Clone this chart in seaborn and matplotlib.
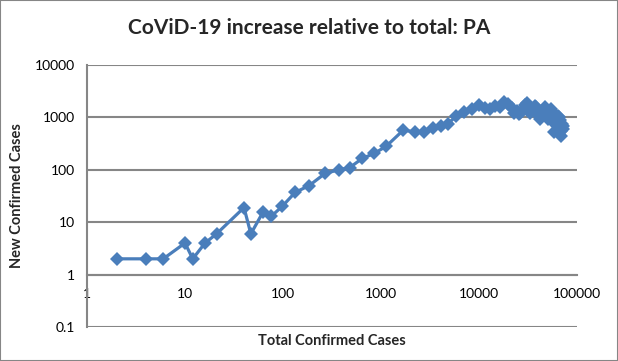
import matplotlib
matplotlib.use("Agg")
import matplotlib.pyplot as plt
from matplotlib.patches import Rectangle
from matplotlib.ticker import FixedLocator, FixedFormatter, NullLocator
import seaborn as sns

# Cumulative total vs. daily new cases
total_cases = [2, 4, 6, 10, 12, 16, 21, 40, 47, 63, 76, 98, 133, 185, 268, 371, 479, 644,
               851, 1127, 1687, 2218, 2751, 3394, 4087, 4843, 5805, 7016, 8420, 10017,
               11500, 12900, 14600, 16200, 17900, 19900, 21700, 22800, 24200, 25300, 26500,
               27700, 29400, 31000, 33200, 35300, 37000, 38600, 40000, 41100, 42000, 43200,
               44300, 45700, 46900, 48300, 49500, 50500, 52800, 53800, 54800, 56300, 57100,
               58500, 60500, 61600, 62200, 63100, 64100, 65400, 66300, 67000, 67700, 68200,
               68600, 69300, 70000, 71500, 72300]
new_cases = [2, 2, 2, 4, 2, 4, 6, 19, 6, 16, 13, 20, 37, 50, 85, 100, 110, 165,
             205, 280, 570, 530, 530, 640, 700, 760, 1050, 1270, 1470, 1700,
             1500, 1450, 1650, 1600, 1950, 1800, 1500, 1200, 1350, 1150, 1200,
             1300, 1700, 1850, 1200, 1450, 1650, 1550, 1350, 1050, 950, 1200,
             1100, 1400, 1550, 1300, 1150, 950, 1100, 1450, 1000, 1200, 800,
             530, 750, 900, 1000, 850, 1050, 1000, 900, 700, 650, 550,
             450, 600, 750, 700, 600]

y_ticks = [0.1, 1, 10, 100, 1000, 10000]
y_tick_labels = ["0.1", "1", "10", "100", "1000", "10000"]
x_ticks = [1, 10, 100, 1000, 10000, 100000]
x_tick_labels = ["1", "10", "100", "1000", "10000", "100000"]

sns.set_style("white")
plt.rcParams['font.family'] = ['Lato', 'DejaVu Sans']

grid_color = '#868686'
line_color = '#4A7EBB'

fig = plt.figure(figsize=(6.18, 3.61), dpi=100)
ax = fig.add_axes([87 / 618, 34 / 361, 490 / 618, 262 / 361])

sns.lineplot(x=total_cases, y=new_cases, ax=ax, sort=False, estimator=None,
             color=line_color, lw=2.3, marker='D', markersize=6.8, markeredgewidth=0)

ax.set_xscale('log')
ax.set_yscale('log')
ax.set_xlim(1, 100000)
ax.set_ylim(0.1, 10000)

ax.yaxis.set_major_locator(FixedLocator(y_ticks))
ax.yaxis.set_major_formatter(FixedFormatter(y_tick_labels))
ax.yaxis.set_minor_locator(NullLocator())
ax.xaxis.set_major_locator(FixedLocator(x_ticks))
ax.xaxis.set_major_formatter(FixedFormatter(x_tick_labels))
ax.xaxis.set_minor_locator(NullLocator())

ax.set_axisbelow(True)
ax.yaxis.grid(True, color=grid_color, lw=1.5)
ax.xaxis.grid(False)

for side in ['top', 'right']:
    ax.spines[side].set_visible(False)
ax.spines['left'].set_color(grid_color)
ax.spines['left'].set_linewidth(1.5)
ax.spines['bottom'].set_color(grid_color)
ax.spines['bottom'].set_linewidth(1.5)
ax.spines['bottom'].set_position(('data', 1))

ax.tick_params(axis='y', direction='out', length=4, width=1.5, color=grid_color,
               pad=5, labelsize=10, labelcolor='black')
ax.tick_params(axis='x', direction='out', length=3, width=1.5, color=grid_color,
               pad=7, labelsize=10, labelcolor='black')
ax.set_xlabel('')
ax.set_ylabel('')

fig.text(0.5, 1 - 28 / 361, 'CoViD-19 increase relative to total: PA',
         ha='center', va='center', fontsize=15, fontweight='bold')
fig.text(332 / 618, 1 - 341 / 361, 'Total Confirmed Cases',
         ha='center', va='center', fontsize=10.5, fontweight='bold')
fig.text(17 / 618, 1 - 196 / 361, 'New Confirmed Cases', rotation=90,
         ha='center', va='center', fontsize=10.5, fontweight='bold')

fig.patches.append(Rectangle((0, 0), 1, 1, transform=fig.transFigure, fill=False,
                             edgecolor=grid_color, lw=1.5))

fig.savefig('out.png', dpi=100)
